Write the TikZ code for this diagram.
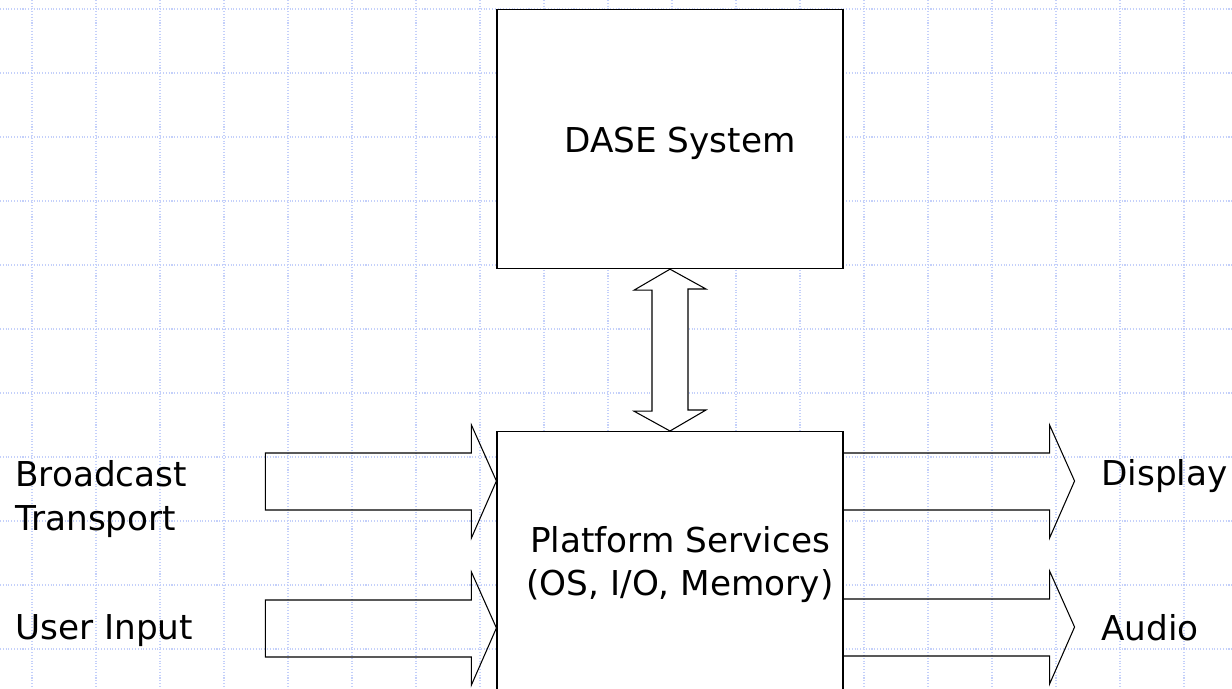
\documentclass[tikz,border=0pt]{standalone}
\usepackage{fontspec}
\setmainfont{DejaVu Sans}
\usepackage{tikz}
\usetikzlibrary{positioning, calc}

\definecolor{gridblue}{RGB}{196,208,250}

\begin{document}
\begin{tikzpicture}
[x=0.02cm, y=-0.02cm,
   gridL/.style={gridblue, line width=0.6pt, densely dotted},
   sysbox/.style={shape=rectangle, draw, line width=0.7pt, fill=white, minimum width=6.92cm, inner sep=0pt},
   blockA/.style={draw, line width=0.6pt, line join=miter},
   lbl/.style={inner sep=0pt, font=\fontsize{19.5pt}{25.5pt}\selectfont}]
\clip (0,0) rectangle (1232,689);
\fill[white] (0,0) rectangle (1232,689);
\foreach \k in {0,...,18} \draw[gridL] ({32+64*\k},0) -- ({32+64*\k},689);
\foreach \k in {0,...,10} \draw[gridL] (0,{9+64*\k}) -- (1232,{9+64*\k});
\node[sysbox, minimum height=5.18cm, anchor=north] (DASE) at (670,9) {};
\node[sysbox, minimum height=6cm, anchor=north] (Plat) at (670,431) {};
\node[lbl, anchor=base] (DASEt) at (680,153) {DASE System};
\node[lbl, anchor=base, align=center, font=\fontsize{19.5pt}{24.5pt}\selectfont] (Platt) at (680,596) {Platform Services\\(OS, I/O, Memory)};
%% the two-headed link between the boxes
\draw[blockA, fill=white] (DASE.south) -- ++(-36,21) -- ++(18,0) -- ++(0,121) -- ++(-18,0)
  -- (Plat.north) -- ++(36,-21) -- ++(-18,0) -- ++(0,-121) -- ++(18,0) -- cycle;
\coordinate (inA) at ($(Plat.north west)+(0,50)$);
\coordinate (inB) at ($(Plat.north west)+(0,197)$);
\coordinate (outA) at ($(Plat.north east)+(0,22)$);
\coordinate (outB) at ($(Plat.north east)+(0,168)$);
\foreach \c in {inA, inB}
  \draw[blockA] (\c) -- ++(-25,-56) -- ++(0,28) -- ++(-206,0) -- ++(0,57) -- ++(206,0) -- ++(0,28) -- cycle;
\foreach \c in {outA, outB}
  \draw[blockA] (\c) -- ++(206,0) -- ++(0,-28) -- ++(25,56) -- ++(-25,57) -- ++(0,-28) -- ++(-206,0);
\node[lbl, anchor=base west, align=left] (bcast) at (15,531) {Broadcast\\Transport};
\node[lbl, anchor=base west] (uinput) at (15,640) {User Input};
\node[lbl, anchor=base west] (disp) at (1101,486) {Display};
\node[lbl, anchor=base west] (audio) at (1101,641) {Audio};
\end{tikzpicture}
\end{document}
